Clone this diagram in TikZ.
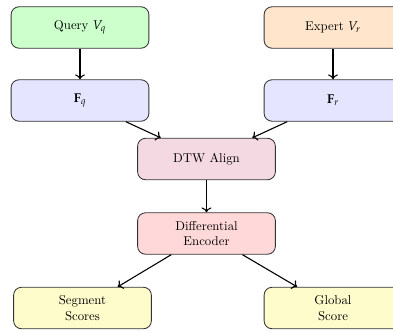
\documentclass[tikz,border=0pt]{standalone}
\usepackage{mathpazo}
\usetikzlibrary{arrows.meta}
\begin{document}
\begin{tikzpicture}[x=0.82pt,y=-0.82pt,
  blockbox/.style={draw=black!80, line width=0.7pt, rounded corners=6.5pt,
    minimum width=113pt, minimum height=34pt, align=center, inner sep=2pt,
    font=\fontsize{10.5}{12.5}\selectfont},
  flow/.style={-{To[length=4pt,width=8pt,line width=0.9pt]}, line width=0.9pt, black},
]
\useasboundingbox (0,0) rectangle (393,332);
\begin{scope}
\clip (0,0) rectangle (393,332);
\node[blockbox, fill=green!20] (query) at (80,27.5) {Query $V_q$};
\node[blockbox, fill=orange!20] (expert) at (333,27.5) {Expert $V_r$};
\node[blockbox, fill=blue!10] (fq) at (80,100.5) {$\mathbf{F}_q$};
\node[blockbox, fill=blue!10] (fr) at (333,100.5) {$\mathbf{F}_r$};
\node[blockbox, fill=purple!15] (dtw) at (206.5,159) {DTW Align};
\node[blockbox, fill=red!15] (diff) at (206.5,233.5) {Differential\\Encoder};
\node[blockbox, fill=yellow!20] (seg) at (82.5,308) {Segment\\Scores};
\node[blockbox, fill=yellow!20] (glob) at (333,308) {Global\\Score};
\end{scope}
\draw[flow] (query) -- (fq);
\draw[flow] (expert) -- (fr);
\draw[flow] (fq) -- (dtw);
\draw[flow] (fr) -- (dtw);
\draw[flow] (dtw) -- (diff);
\draw[flow] (diff) -- (seg);
\draw[flow] (diff) -- (glob);
\end{tikzpicture}
\end{document}
